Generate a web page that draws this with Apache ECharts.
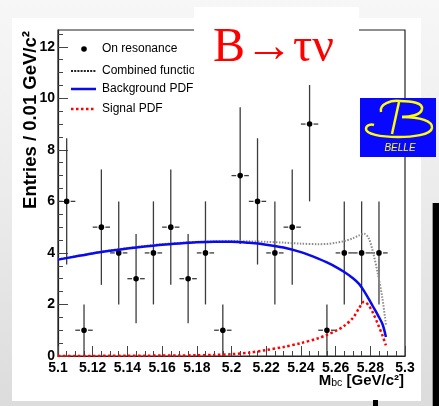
<!DOCTYPE html>
<html>
<head>
<meta charset="utf-8">
<title>B→τν Mbc fit</title>
<script src="https://cdn.jsdelivr.net/npm/echarts@6/dist/echarts.min.js"></script>
<style>
  html, body { margin: 0; padding: 0; }
  body {
    width: 439px; height: 406px; overflow: hidden; position: relative;
    background: linear-gradient(to bottom, #f7f7f7 0%, #ebebeb 50%, #dcdcdc 100%);
  }
  #panel { position: absolute; left: 12px; top: 18px; width: 409px; height: 383px; background: #fff; }
  #barRight { position: absolute; left: 432px; top: 203px; width: 7px; height: 203px; background: #000; border-left: 1px solid #999; }
  #barBottom { position: absolute; left: 373px; top: 400px; width: 5px; height: 6px; background: #000; }
  #chart { position: absolute; left: 0; top: 0; width: 439px; height: 406px; }
</style>
</head>
<body>
<div id="panel"></div>
<div id="barRight"></div>
<div id="barBottom"></div>
<div id="chart"></div>
<script>
// Mbc bin centres (GeV/c^2) and on-resonance event counts with their errors
const binCenters = [5.105, 5.115, 5.125, 5.135, 5.145, 5.155, 5.165, 5.175, 5.185, 5.195,
                    5.205, 5.215, 5.225, 5.235, 5.245, 5.255, 5.265, 5.275, 5.285];
const counts = [6, 1, 5, 4, 3, 4, 5, 3, 4, 1, 7, 6, 4, 5, 9, 1, 4, 4, 4];
const countErrors = [2.45, 1, 2.24, 2, 1.73, 2, 2.24, 1.73, 2, 1, 2.65, 2.45, 2, 2.24, 3, 1, 2, 2, 2];
const binHalfWidth = 0.005;

// Fit curves sampled along Mbc
const curveMass = [5.100, 5.110, 5.120, 5.130, 5.140, 5.150, 5.160, 5.170, 5.180, 5.190,
                   5.200, 5.210, 5.220, 5.230, 5.240, 5.250, 5.255, 5.260, 5.265, 5.270,
                   5.2735, 5.2765, 5.2790, 5.2815, 5.2845, 5.2870, 5.2890];
const backgroundPdf = [3.74, 3.86, 3.98, 4.08, 4.17, 4.25, 4.32, 4.37, 4.41, 4.43,
                       4.43, 4.39, 4.32, 4.21, 4.03, 3.78, 3.63, 3.46, 3.26, 3.02,
                       2.80, 2.51, 2.23, 1.93, 1.57, 1.24, 0.74];
const signalPdf = [0.00, 0.00, 0.00, 0.01, 0.01, 0.01, 0.02, 0.02, 0.03, 0.04,
                   0.07, 0.13, 0.23, 0.35, 0.50, 0.69, 0.82, 0.97, 1.17, 1.48,
                   1.85, 2.11, 1.97, 1.68, 1.22, 0.80, 0.41];
const combinedFit = [3.76, 3.87, 3.99, 4.10, 4.19, 4.27, 4.34, 4.39, 4.43, 4.45,
                     4.46, 4.45, 4.43, 4.40, 4.36, 4.34, 4.35, 4.39, 4.46, 4.57,
                     4.68, 4.74, 4.58, 4.05, 3.14, 2.23, 1.22];

// Axis ticks
const yMajorTicks = [0, 2, 4, 6, 8, 10, 12];
const yMinorTicks = [0.5, 1, 1.5, 2.5, 3, 3.5, 4.5, 5, 5.5, 6.5, 7, 7.5, 8.5, 9, 9.5, 10.5, 11, 11.5, 12.5];

const legendItems = ['On resonance', 'Combined function', 'Background PDF', 'Signal PDF'];

const chart = echarts.init(document.getElementById('chart'), null, { renderer: 'canvas' });

const axisColor = '#222';
const labelFont = { fontFamily: 'Liberation Sans', fontWeight: 'bold', fontSize: 14, color: '#000' };

const pointData = binCenters.map((m, i) => [m, counts[i], countErrors[i]]);
const toXY = (arr) => curveMass.map((m, i) => [m, arr[i]]);

function renderPoint(params, api) {
  const x = api.value(0), y = api.value(1), e = api.value(2);
  const c = api.coord([x, y]);
  const top = api.coord([x, y + e]);
  const bot = api.coord([x, y - e]);
  const left = api.coord([x - binHalfWidth, y]);
  const right = api.coord([x + binHalfWidth, y]);
  const gap = 4;
  const barStyle = { stroke: '#3c3c3c', lineWidth: 1.3 };
  return {
    type: 'group',
    children: [
      { type: 'line', shape: { x1: c[0], y1: top[1], x2: c[0], y2: bot[1] }, style: barStyle },
      { type: 'line', shape: { x1: left[0], y1: c[1], x2: c[0] - gap, y2: c[1] }, style: barStyle },
      { type: 'line', shape: { x1: c[0] + gap, y1: c[1], x2: right[0], y2: c[1] }, style: barStyle },
      { type: 'circle', shape: { cx: c[0], cy: c[1], r: 2.8 }, style: { fill: '#000' } }
    ]
  };
}

// Belle "B" emblem strokes: [x1, y1, cpx1, cpy1, cpx2, cpy2, x2, y2]
const logoCurves = [
  [381, 112, 379, 104, 391, 100, 400, 101],
  [400, 101, 412, 101, 423, 103, 422, 109],
  [422, 109, 421, 115, 410, 117, 402, 117],
  [402, 117, 420, 117, 433, 121, 432, 128],
  [432, 128, 431, 135, 412, 137, 398, 137],
  [398, 137, 380, 137, 366, 134, 366, 129],
  [366, 129, 366, 125, 371, 124, 374, 125]
];
const logoStroke = { stroke: '#ffff00', lineWidth: 2.5, fill: null };
const logoElements = logoCurves.map(p => ({
  type: 'bezierCurve', z: 81,
  shape: { x1: p[0], y1: p[1], cpx1: p[2], cpy1: p[3], cpx2: p[4], cpy2: p[5], x2: p[6], y2: p[7] },
  style: logoStroke
}));
logoElements.push({ type: 'line', z: 81, shape: { x1: 399, y1: 102, x2: 392, y2: 134 }, style: logoStroke });

const legendFont = '12px "Liberation Sans"';

const option = {
  backgroundColor: 'transparent',
  animation: false,
  grid: { left: 58, top: 30, right: 34, bottom: 50, show: true, borderColor: axisColor, borderWidth: 1.2, backgroundColor: 'transparent' },
  xAxis: {
    type: 'value', min: 5.1, max: 5.3, interval: 0.02,
    axisLine: { show: true, onZero: false, lineStyle: { color: axisColor, width: 1.2 } },
    axisTick: { show: true, inside: true, length: 10, lineStyle: { color: '#444', width: 1 } },
    minorTick: { show: true, splitNumber: 4, length: 5, lineStyle: { color: '#444', width: 1 } },
    splitLine: { show: false },
    axisLabel: Object.assign({ margin: 5 }, labelFont)
  },
  yAxis: [
    {
      type: 'value', min: 0, max: 12.65,
      axisLine: { show: true, lineStyle: { color: axisColor, width: 1.2 } },
      axisTick: { show: true, inside: true, length: 10, customValues: yMajorTicks, lineStyle: { color: '#444', width: 1 } },
      axisLabel: Object.assign({ margin: 3, customValues: yMajorTicks }, labelFont),
      splitLine: { show: false }
    },
    {
      type: 'value', min: 0, max: 12.65, position: 'left',
      axisLine: { show: false },
      axisTick: { show: true, inside: true, length: 5, customValues: yMinorTicks, lineStyle: { color: '#444', width: 1 } },
      axisLabel: { show: false },
      splitLine: { show: false }
    }
  ],
  series: [
    {
      name: legendItems[0], type: 'custom', renderItem: renderPoint, data: pointData, z: 2,
      encode: { x: 0, y: 1 }, clip: true
    },
    {
      name: legendItems[1], type: 'line', data: toXY(combinedFit), showSymbol: false, smooth: 0.3, z: 3,
      lineStyle: { color: '#8c8c8c', width: 2, type: [1.5, 1.5] }
    },
    {
      name: legendItems[2], type: 'line', data: toXY(backgroundPdf), showSymbol: false, smooth: 0.3, z: 4,
      lineStyle: { color: '#0a0aee', width: 2.5 }
    },
    {
      name: legendItems[3], type: 'line', data: toXY(signalPdf), showSymbol: false, smooth: 0.3, z: 5,
      lineStyle: { color: '#ff0000', width: 2.5, type: [2.5, 2.5] }
    }
  ],
  graphic: [
    // legend
    { type: 'circle', shape: { cx: 84, cy: 49, r: 2.8 }, style: { fill: '#000' }, z: 50 },
    { type: 'line', shape: { x1: 71, y1: 71, x2: 96, y2: 71 }, style: { stroke: '#222', lineWidth: 2, lineDash: [2, 1.2] }, z: 50 },
    { type: 'line', shape: { x1: 71, y1: 89, x2: 96, y2: 89 }, style: { stroke: '#0a0aee', lineWidth: 2.5 }, z: 50 },
    { type: 'line', shape: { x1: 71, y1: 109, x2: 96, y2: 109 }, style: { stroke: '#ff0000', lineWidth: 2.5, lineDash: [2.5, 2.5] }, z: 50 },
    { type: 'text', x: 102, y: 49, style: { text: legendItems[0], font: legendFont, fill: '#000', verticalAlign: 'middle' }, z: 50 },
    { type: 'text', x: 102, y: 71, style: { text: legendItems[1], font: legendFont, fill: '#000', verticalAlign: 'middle' }, z: 50 },
    { type: 'text', x: 102, y: 89, style: { text: legendItems[2], font: legendFont, fill: '#000', verticalAlign: 'middle' }, z: 50 },
    { type: 'text', x: 102, y: 109, style: { text: legendItems[3], font: legendFont, fill: '#000', verticalAlign: 'middle' }, z: 50 },
    // axis titles
    {
      type: 'text', x: 31, y: 120, rotation: Math.PI / 2, z: 50,
      style: { text: 'Entries / 0.01 GeV/c²', font: 'bold 18.5px "Liberation Sans"', fill: '#000', align: 'center', verticalAlign: 'middle' }
    },
    {
      type: 'text', x: 404, y: 381, z: 50,
      style: {
        text: '{m|M}{s|bc}{m| [GeV/c²]}', align: 'right', verticalAlign: 'middle',
        rich: {
          m: { fontFamily: 'Liberation Sans', fontWeight: 'bold', fontSize: 15, lineHeight: 16, fill: '#000' },
          s: { fontFamily: 'Liberation Sans', fontSize: 10.5, lineHeight: 4, verticalAlign: 'bottom', fill: '#000' }
        }
      }
    },
    // title box
    { type: 'rect', shape: { x: 194, y: 7, width: 165, height: 78 }, style: { fill: '#fff' }, z: 80 },
    {
      type: 'text', x: 213, y: 48, z: 81,
      style: { text: 'B→τν', font: '48px "Liberation Serif"', fill: '#ff0000', verticalAlign: 'middle' }
    },
    // Belle logo
    { type: 'rect', shape: { x: 360, y: 98, width: 76, height: 59 }, style: { fill: '#0808ff' }, z: 80 }
  ].concat(logoElements, [
    {
      type: 'text', x: 400, y: 148, z: 81,
      style: { text: 'BELLE', font: 'italic 10px "Liberation Sans"', fill: '#ffff00', align: 'center', verticalAlign: 'middle' }
    }
  ])
};

chart.setOption(option);
</script>
</body>
</html>
